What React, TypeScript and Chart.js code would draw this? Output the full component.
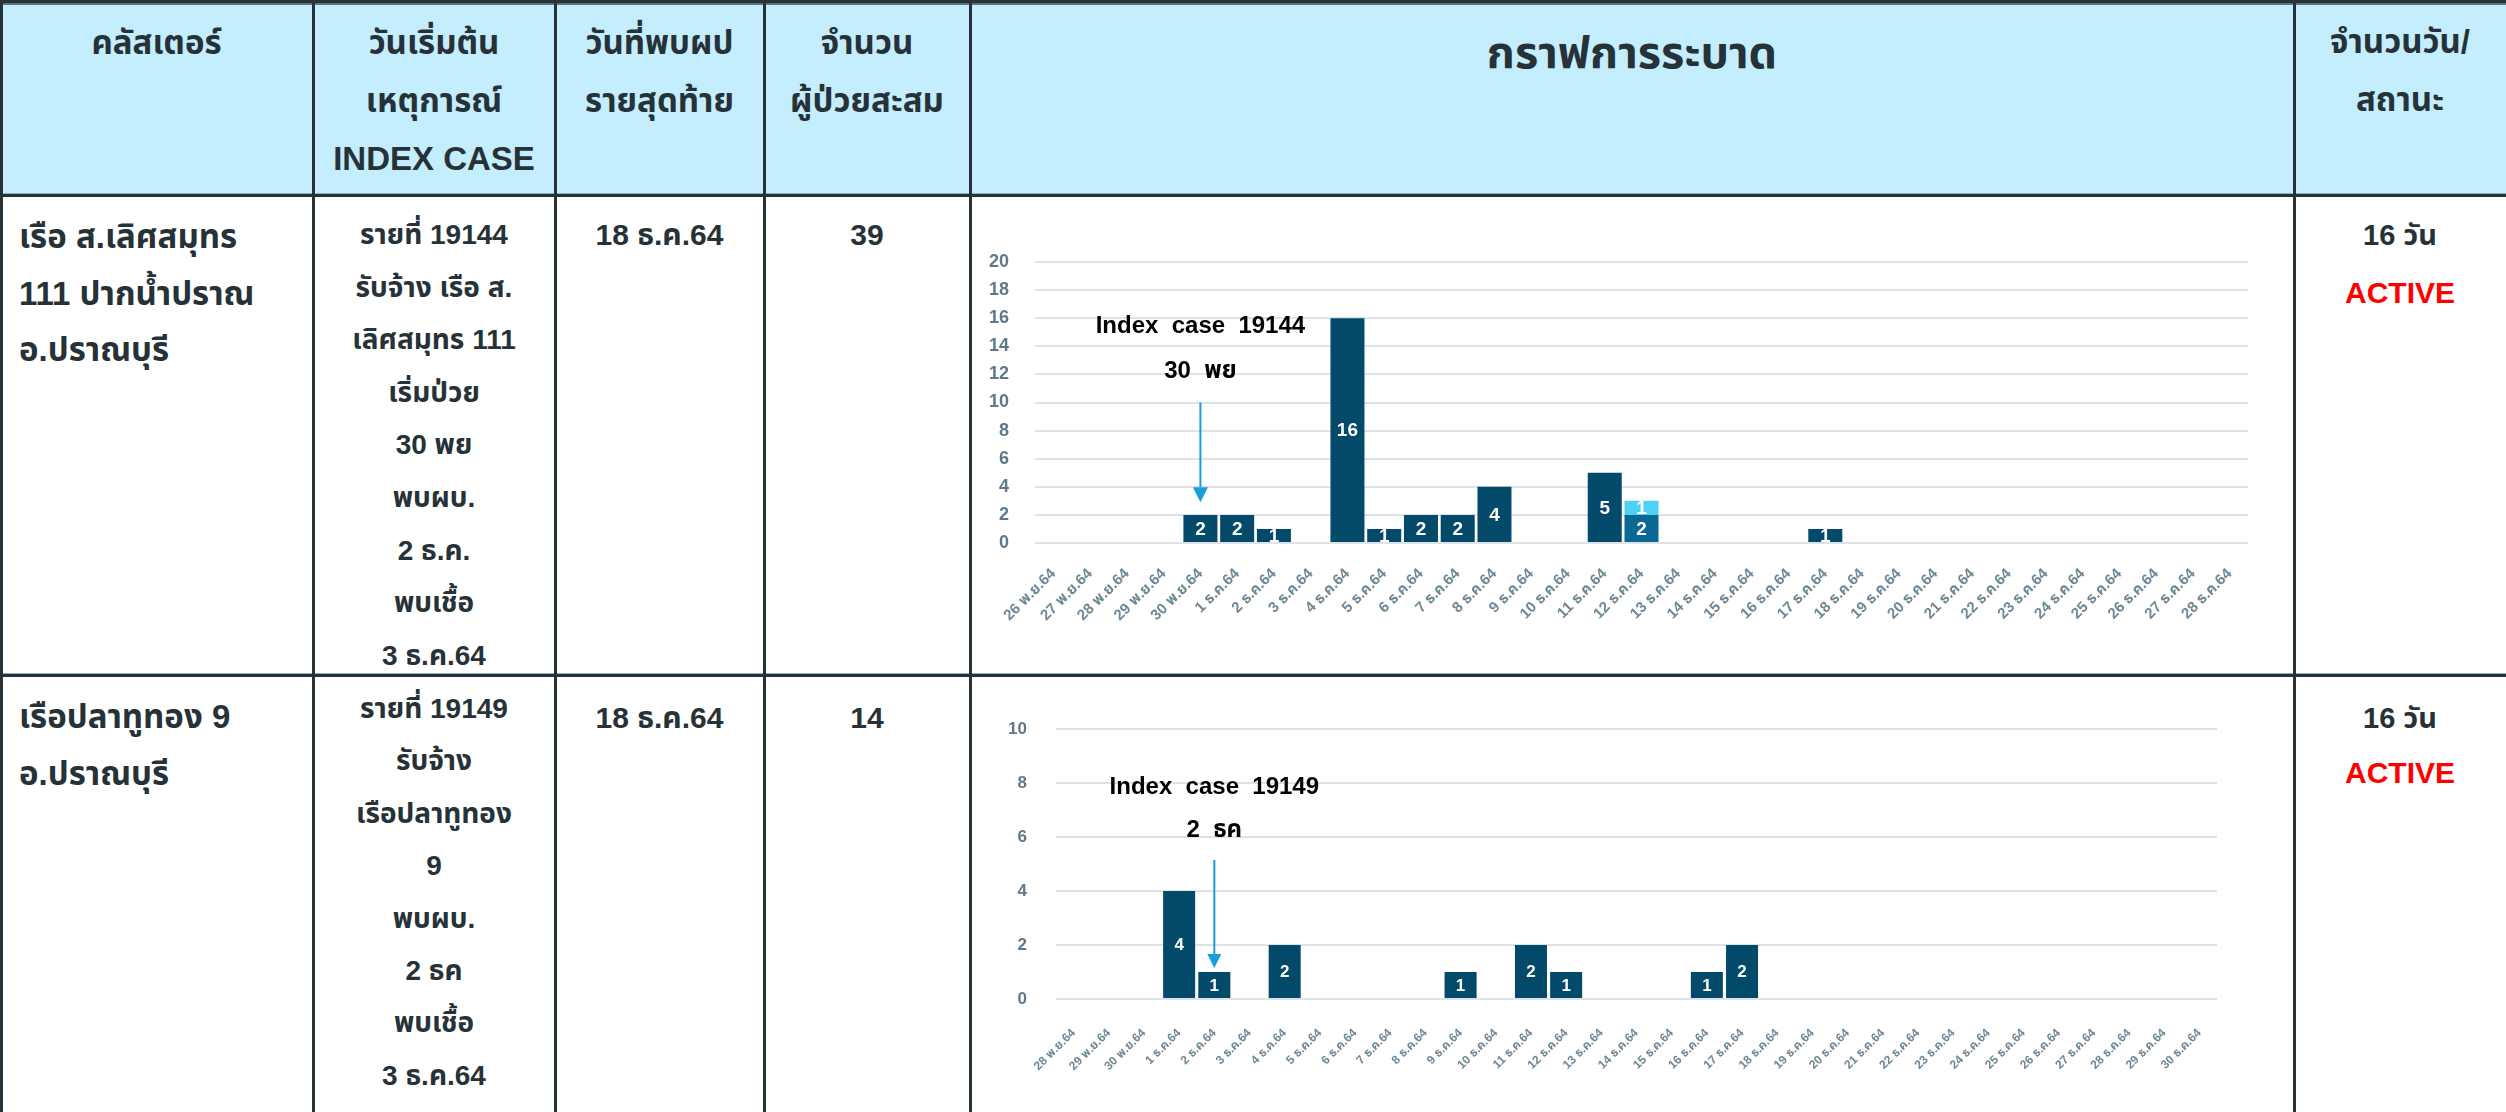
import React, { useEffect, useRef } from "react";
import { Chart, registerables } from "chart.js";

Chart.register(...registerables);

// ---------------- DATA ----------------
const chart1Labels = [
  "26 พ.ย.64", "27 พ.ย.64", "28 พ.ย.64", "29 พ.ย.64", "30 พ.ย.64",
  "1 ธ.ค.64", "2 ธ.ค.64", "3 ธ.ค.64", "4 ธ.ค.64", "5 ธ.ค.64", "6 ธ.ค.64", "7 ธ.ค.64",
  "8 ธ.ค.64", "9 ธ.ค.64", "10 ธ.ค.64", "11 ธ.ค.64", "12 ธ.ค.64", "13 ธ.ค.64", "14 ธ.ค.64",
  "15 ธ.ค.64", "16 ธ.ค.64", "17 ธ.ค.64", "18 ธ.ค.64", "19 ธ.ค.64", "20 ธ.ค.64", "21 ธ.ค.64",
  "22 ธ.ค.64", "23 ธ.ค.64", "24 ธ.ค.64", "25 ธ.ค.64", "26 ธ.ค.64", "27 ธ.ค.64", "28 ธ.ค.64",
];
const chart1Dark = [0, 0, 0, 0, 2, 2, 1, 0, 16, 1, 2, 2, 4, 0, 0, 5, 0, 0, 0, 0, 0, 1, 0, 0, 0, 0, 0, 0, 0, 0, 0, 0, 0];
const chart1Mid = [0, 0, 0, 0, 0, 0, 0, 0, 0, 0, 0, 0, 0, 0, 0, 0, 2, 0, 0, 0, 0, 0, 0, 0, 0, 0, 0, 0, 0, 0, 0, 0, 0];
const chart1Light = [0, 0, 0, 0, 0, 0, 0, 0, 0, 0, 0, 0, 0, 0, 0, 0, 1, 0, 0, 0, 0, 0, 0, 0, 0, 0, 0, 0, 0, 0, 0, 0, 0];
const chart1YTicks = { min: 0, max: 20, step: 2 };
const chart1NoteLines = ["Index  case  19144", "30  พย"];
const chart1NoteIndex = 4;
const chart1NoteValues = [15.4, 12.2];
const chart1Arrow = [10, 2.9];

const chart2Labels = [
  "28 พ.ย.64", "29 พ.ย.64", "30 พ.ย.64",
  "1 ธ.ค.64", "2 ธ.ค.64", "3 ธ.ค.64", "4 ธ.ค.64", "5 ธ.ค.64", "6 ธ.ค.64", "7 ธ.ค.64",
  "8 ธ.ค.64", "9 ธ.ค.64", "10 ธ.ค.64", "11 ธ.ค.64", "12 ธ.ค.64", "13 ธ.ค.64", "14 ธ.ค.64",
  "15 ธ.ค.64", "16 ธ.ค.64", "17 ธ.ค.64", "18 ธ.ค.64", "19 ธ.ค.64", "20 ธ.ค.64", "21 ธ.ค.64",
  "22 ธ.ค.64", "23 ธ.ค.64", "24 ธ.ค.64", "25 ธ.ค.64", "26 ธ.ค.64", "27 ธ.ค.64", "28 ธ.ค.64",
  "29 ธ.ค.64", "30 ธ.ค.64",
];
const chart2Values = [0, 0, 0, 4, 1, 0, 2, 0, 0, 0, 0, 1, 0, 2, 1, 0, 0, 0, 1, 2, 0, 0, 0, 0, 0, 0, 0, 0, 0, 0, 0, 0, 0];
const chart2YTicks = { min: 0, max: 10, step: 2 };
const chart2NoteLines = ["Index  case  19149", "2  ธค"];
const chart2NoteIndex = 4;
const chart2NoteValues = [7.85, 6.25];
const chart2Arrow = [5.15, 1.15];

// table texts
const headerCluster = ["คลัสเตอร์"];
const headerIndex = ["วันเริ่มต้น", "เหตุการณ์", "INDEX CASE"];
const headerLast = ["วันที่พบผป", "รายสุดท้าย"];
const headerCount = ["จำนวน", "ผู้ป่วยสะสม"];
const headerGraph = "กราฟการระบาด";
const headerStatus = ["จำนวนวัน/", "สถานะ"];

const row1Cluster = ["เรือ ส.เลิศสมุทร", "111 ปากน้ำปราณ", "อ.ปราณบุรี"];
const row1Index = ["รายที่ 19144", "รับจ้าง เรือ ส.", "เลิศสมุทร 111", "เริ่มป่วย", "30 พย", "พบผบ.", "2 ธ.ค.", "พบเชื้อ", "3 ธ.ค.64"];
const row1Last = "18 ธ.ค.64";
const row1Count = "39";
const row1Days = "16 วัน";
const row1Status = "ACTIVE";

const row2Cluster = ["เรือปลาทูทอง 9", "อ.ปราณบุรี"];
const row2Index = ["รายที่ 19149", "รับจ้าง", "เรือปลาทูทอง", "9", "พบผบ.", "2 ธค", "พบเชื้อ", "3 ธ.ค.64"];
const row2Last = "18 ธ.ค.64";
const row2Count = "14";
const row2Days = "16 วัน";
const row2Status = "ACTIVE";

// ---------------- STYLE ----------------
const DARK_BAR = "#02496a";
const MID_BAR = "#0a6894";
const LIGHT_BAR = "#4fd0f5";
const ARROW = "#189ed8";
const GRID = "#dde3e7";
const TICK_Y = "#5f798a";
const TICK_X = "#6f8896";
const INK = "#263238";
const HEADER_BG = "#c4edfd";
const FONT = "'Liberation Sans', Arial, 'Noto Sans Thai', 'Noto Sans', sans-serif";

const barLabelPlugin = {
  id: "barLabels",
  afterDatasetsDraw(chart: any, _a: any, opts: any) {
    const ctx = chart.ctx;
    chart.data.datasets.forEach((ds: any, di: number) => {
      const meta = chart.getDatasetMeta(di);
      meta.data.forEach((el: any, i: number) => {
        const v = ds.data[i];
        if (!v) return;
        const p = el.getProps(["x", "y", "base", "width"], true);
        const top = Math.min(p.y, p.base);
        const h = Math.abs(p.base - p.y);
        ctx.save();
        ctx.beginPath();
        ctx.rect(p.x - p.width / 2, top, p.width, h);
        ctx.clip();
        ctx.fillStyle = "#ffffff";
        ctx.font = opts.font;
        ctx.textAlign = "center";
        ctx.textBaseline = "middle";
        ctx.fillText(String(v), p.x, top + h / 2 + 1);
        ctx.restore();
      });
    });
  },
};

const notePlugin = {
  id: "note",
  afterDraw(chart: any, _a: any, opts: any) {
    const ctx = chart.ctx;
    const xs = chart.scales.x;
    const ys = chart.scales.y;
    const px = xs.getPixelForValue(opts.index);
    ctx.save();
    ctx.fillStyle = "#000000";
    ctx.font = opts.font;
    ctx.textAlign = "center";
    ctx.textBaseline = "middle";
    opts.lines.forEach((t: string, k: number) => {
      ctx.fillText(t, px, ys.getPixelForValue(opts.values[k]));
    });
    const y0 = ys.getPixelForValue(opts.arrow[0]);
    const y1 = ys.getPixelForValue(opts.arrow[1]);
    const head = opts.head;
    ctx.strokeStyle = ARROW;
    ctx.fillStyle = ARROW;
    ctx.lineWidth = 2;
    ctx.beginPath();
    ctx.moveTo(px, y0);
    ctx.lineTo(px, y1 - head);
    ctx.stroke();
    ctx.beginPath();
    ctx.moveTo(px - head / 2, y1 - head);
    ctx.lineTo(px + head / 2, y1 - head);
    ctx.lineTo(px, y1);
    ctx.closePath();
    ctx.fill();
    ctx.restore();
  },
};

type ChartSpec = {
  labels: string[];
  datasets: any[];
  yTicks: { min: number; max: number; step: number };
  width: number;
  height: number;
  yAxisWidth: number;
  xAxisHeight: number;
  padTop: number;
  padRight: number;
  yFont: number;
  xFont: number;
  yPad: number;
  xPad: number;
  barFont: string;
  note: any;
};

function BarChart({ spec, left, top }: { spec: ChartSpec; left: number; top: number }) {
  const ref = useRef<HTMLCanvasElement | null>(null);
  useEffect(() => {
    if (!ref.current) return;
    const chart = new Chart(ref.current, {
      type: "bar",
      data: { labels: spec.labels, datasets: spec.datasets },
      options: {
        animation: false,
        responsive: false,
        maintainAspectRatio: false,
        layout: { padding: { top: spec.padTop, right: spec.padRight, left: 0, bottom: 0 } },
        plugins: {
          legend: { display: false },
          tooltip: { enabled: false },
          barLabels: { font: spec.barFont },
          note: spec.note,
        } as any,
        scales: {
          x: {
            stacked: true,
            grid: { display: false },
            border: { display: false },
            ticks: {
              color: TICK_X,
              font: { family: FONT, size: spec.xFont, weight: "bold" },
              minRotation: 45,
              maxRotation: 45,
              autoSkip: false,
              padding: spec.xPad,
            },
            afterFit(s: any) {
              s.height = spec.xAxisHeight;
            },
          },
          y: {
            stacked: true,
            min: spec.yTicks.min,
            max: spec.yTicks.max,
            ticks: {
              stepSize: spec.yTicks.step,
              color: TICK_Y,
              font: { family: FONT, size: spec.yFont, weight: "bold" },
              padding: spec.yPad,
            },
            grid: { color: GRID, lineWidth: 2, drawTicks: false },
            border: { display: false },
            afterFit(s: any) {
              s.width = spec.yAxisWidth;
            },
          },
        },
      } as any,
      plugins: [barLabelPlugin, notePlugin],
    });
    return () => chart.destroy();
  }, []);
  return (
    <canvas
      ref={ref}
      width={spec.width}
      height={spec.height}
      style={{ position: "absolute", left, top, width: spec.width, height: spec.height }}
    />
  );
}

const chart1Spec: ChartSpec = {
  labels: chart1Labels,
  datasets: [
    { data: chart1Dark, backgroundColor: DARK_BAR, categoryPercentage: 1, barPercentage: 0.925, borderWidth: 0 },
    { data: chart1Mid, backgroundColor: MID_BAR, categoryPercentage: 1, barPercentage: 0.925, borderWidth: 0 },
    { data: chart1Light, backgroundColor: LIGHT_BAR, categoryPercentage: 1, barPercentage: 0.925, borderWidth: 0 },
  ],
  yTicks: chart1YTicks,
  width: 1315,
  height: 470,
  yAxisWidth: 60,
  xAxisHeight: 127,
  padTop: 62,
  padRight: 42,
  yFont: 18,
  xFont: 15,
  yPad: 26,
  xPad: 14,
  barFont: `bold 19px ${FONT}`,
  note: {
    index: chart1NoteIndex,
    lines: chart1NoteLines,
    values: chart1NoteValues,
    arrow: chart1Arrow,
    head: 15,
    font: `bold 24px ${FONT}`,
  },
};

const chart2Spec: ChartSpec = {
  labels: chart2Labels,
  datasets: [
    { data: chart2Values, backgroundColor: DARK_BAR, categoryPercentage: 1, barPercentage: 0.91, borderWidth: 0 },
  ],
  yTicks: chart2YTicks,
  width: 1315,
  height: 425,
  yAxisWidth: 81,
  xAxisHeight: 108,
  padTop: 47,
  padRight: 73,
  yFont: 17,
  xFont: 12,
  yPad: 29,
  xPad: 19,
  barFont: `bold 17px ${FONT}`,
  note: {
    index: chart2NoteIndex,
    lines: chart2NoteLines,
    values: chart2NoteValues,
    arrow: chart2Arrow,
    head: 14,
    font: `bold 24px ${FONT}`,
  },
};

// ---------------- TABLE ----------------
function Lines({
  lines, left, width, top, lineHeight, size, align = "center", color = INK,
}: {
  lines: string[]; left: number; width: number; top: number; lineHeight: number; size: number;
  align?: "left" | "center"; color?: string;
}) {
  return (
    <div
      style={{
        position: "absolute", left, top, width, textAlign: align, fontSize: size,
        lineHeight: `${lineHeight}px`, fontWeight: "bold", color, whiteSpace: "nowrap",
      }}
    >
      {lines.map((l, i) => (
        <div key={i} style={{ height: lineHeight }}>{l}</div>
      ))}
    </div>
  );
}

const COLS = [0, 313, 555, 764, 970, 2294, 2506];
const ROW_SEP = [195, 675];

function HLine({ y }: { y: number }) {
  return (
    <>
      <div style={{ position: "absolute", left: 0, top: y - 2, width: 2506, height: 1, background: "#8fb3c2" }} />
      <div style={{ position: "absolute", left: 0, top: y - 1, width: 2506, height: 3, background: INK }} />
    </>
  );
}

export default function App() {
  useEffect(() => {
    document.body.style.margin = "0";
  }, []);
  const cw = (i: number) => COLS[i + 1] - COLS[i];
  return (
    <div
      style={{
        position: "fixed", left: 0, top: 0, width: 2506, height: 1112, background: "#ffffff",
        overflow: "hidden", fontFamily: FONT,
      }}
    >
      {/* header background */}
      <div style={{ position: "absolute", left: 0, top: 5, width: 2506, height: 188, background: HEADER_BG }} />
      <div style={{ position: "absolute", left: 0, top: 0, width: 2506, height: 3, background: "#27343a" }} />
      <div style={{ position: "absolute", left: 0, top: 3, width: 2506, height: 2, background: "#5e7078" }} />
      <HLine y={ROW_SEP[0]} />
      <HLine y={ROW_SEP[1]} />
      {/* vertical lines */}
      {COLS.slice(0, 6).map((x, i) => (
        <div key={i} style={{ position: "absolute", left: i === 0 ? 0 : x - 1, top: 3, width: 3, height: 1109, background: INK }} />
      ))}

      {/* header texts */}
      <Lines lines={headerCluster} left={COLS[0]} width={cw(0)} top={14} lineHeight={58} size={33} />
      <Lines lines={headerIndex} left={COLS[1]} width={cw(1)} top={14} lineHeight={58} size={33} />
      <Lines lines={headerLast} left={COLS[2]} width={cw(2)} top={14} lineHeight={58} size={33} />
      <Lines lines={headerCount} left={COLS[3]} width={cw(3)} top={14} lineHeight={58} size={33} />
      <Lines lines={[headerGraph]} left={COLS[4]} width={cw(4)} top={23} lineHeight={60} size={45} />
      <Lines lines={headerStatus} left={COLS[5]} width={cw(5)} top={13} lineHeight={58} size={33} />

      {/* row 1 */}
      <Lines lines={row1Cluster} left={19} width={290} top={209} lineHeight={56.7} size={33} align="left" />
      <Lines lines={row1Index} left={COLS[1]} width={cw(1)} top={209} lineHeight={52.6} size={28} />
      <Lines lines={[row1Last]} left={COLS[2]} width={cw(2)} top={209} lineHeight={52} size={30} />
      <Lines lines={[row1Count]} left={COLS[3]} width={cw(3)} top={209} lineHeight={52} size={30} />
      <Lines lines={[row1Days]} left={COLS[5]} width={cw(5)} top={206} lineHeight={58} size={29} />
      <Lines lines={[row1Status]} left={COLS[5]} width={cw(5)} top={264} lineHeight={58} size={30} color="#ff0000" />

      {/* row 2 */}
      <Lines lines={row2Cluster} left={19} width={290} top={689} lineHeight={56.7} size={33} align="left" />
      <Lines lines={row2Index} left={COLS[1]} width={cw(1)} top={683} lineHeight={52.4} size={28} />
      <Lines lines={[row2Last]} left={COLS[2]} width={cw(2)} top={692} lineHeight={52} size={30} />
      <Lines lines={[row2Count]} left={COLS[3]} width={cw(3)} top={692} lineHeight={52} size={30} />
      <Lines lines={[row2Days]} left={COLS[5]} width={cw(5)} top={689} lineHeight={58} size={29} />
      <Lines lines={[row2Status]} left={COLS[5]} width={cw(5)} top={744} lineHeight={58} size={30} color="#ff0000" />

      {/* charts */}
      <BarChart spec={chart1Spec} left={975} top={200} />
      <BarChart spec={chart2Spec} left={975} top={682} />
    </div>
  );
}
